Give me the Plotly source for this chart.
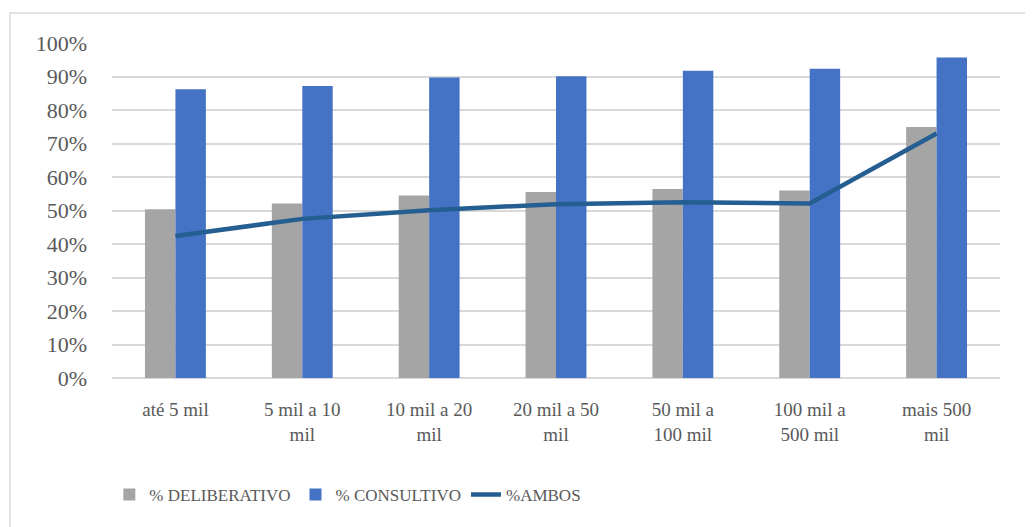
import plotly.graph_objects as go

# Categorias e séries
categorias = ['até 5 mil', '5 mil a 10<br>mil', '10 mil a 20<br>mil', '20 mil a 50<br>mil',
              '50 mil a<br>100 mil', '100 mil a<br>500 mil', 'mais 500<br>mil']
deliberativo = [0.504, 0.521, 0.545, 0.555, 0.564, 0.560, 0.749]
consultivo = [0.862, 0.872, 0.897, 0.901, 0.917, 0.923, 0.957]
ambos = [0.424, 0.475, 0.501, 0.519, 0.525, 0.521, 0.730]

CORES = {
    'cinza': '#A5A5A5',
    'azul': '#4472C4',
    'linha': '#255E91',
    'texto': '#595959',
    'grade': '#D9D9D9',
}

FONTE = 'Liberation Serif, Times New Roman, serif'

fig = go.Figure()

fig.add_trace(go.Bar(
    x=categorias, y=deliberativo, name='% DELIBERATIVO',
    marker=dict(color=CORES['cinza'], line=dict(width=0)),
))
fig.add_trace(go.Bar(
    x=categorias, y=consultivo, name='% CONSULTIVO',
    marker=dict(color=CORES['azul'], line=dict(width=0)),
))
fig.add_trace(go.Scatter(
    x=categorias, y=ambos, name='%AMBOS', mode='lines',
    line=dict(color=CORES['linha'], width=4.5),
))

# moldura externa do gráfico
fig.add_shape(
    type='rect', xref='paper', yref='paper',
    x0=-0.1149, x1=1.045, y0=-0.4537, y1=1.0896,
    line=dict(color='#D9D9D9', width=1.5), fillcolor='rgba(0,0,0,0)', layer='below',
)

# a página tem margem de 8px no body, por isso a figura é 8px menor
fig.update_layout(
    width=1025, height=519,
    paper_bgcolor='white', plot_bgcolor='white',
    font=dict(family=FONTE, size=20, color=CORES['texto']),
    margin=dict(l=104, r=33, t=35, b=149),
    barmode='group', bargap=0.52, bargroupgap=0,
    showlegend=True,
    legend=dict(
        orientation='h', x=-0.003, xanchor='left', y=-0.349, yanchor='middle',
        font=dict(family=FONTE, size=17, color=CORES['texto']),
        traceorder='normal',
    ),
    xaxis=dict(
        showgrid=False, showline=False, ticks='',
        tickfont=dict(family=FONTE, size=19, color=CORES['texto']),
        tickangle=0, ticklabelstandoff=18,
    ),
    yaxis=dict(
        range=[0, 1.0], dtick=0.1, tickformat='.0%',
        showgrid=True, gridcolor=CORES['grade'], gridwidth=1.5,
        zeroline=True, zerolinecolor=CORES['grade'], zerolinewidth=1.5,
        showline=False, ticks='', ticklabelstandoff=24,
        tickfont=dict(family=FONTE, size=22, color=CORES['texto']),
    ),
)

fig.write_html('out.html')
